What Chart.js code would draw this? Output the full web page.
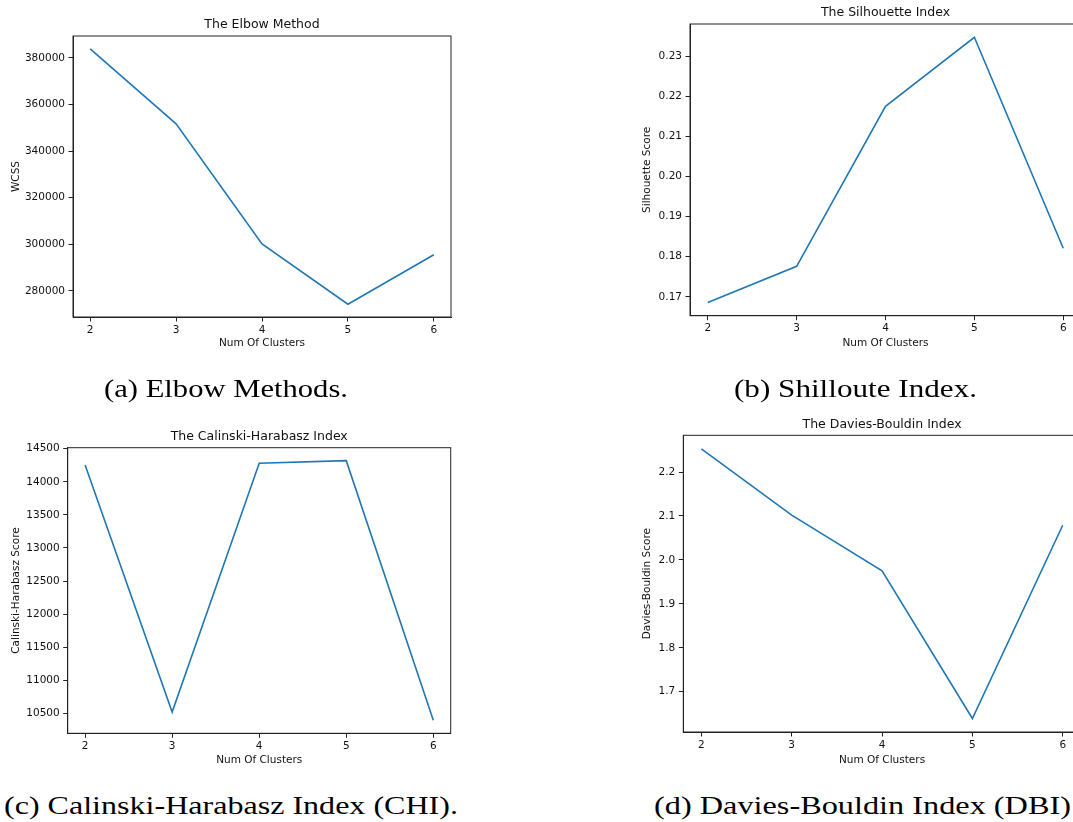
<!DOCTYPE html>
<html>
<head>
<meta charset="utf-8">
<script src="https://cdn.jsdelivr.net/npm/chart.js@4.4.1/dist/chart.umd.min.js"></script>
<style>
  html, body { margin: 0; padding: 0; background: #fff; overflow: hidden; }
  #page { position: relative; width: 1073px; height: 822px; overflow: hidden; background: #fff; }
  #page canvas { position: absolute; }
  .cap { position: absolute; font-family: "Liberation Serif", serif; font-size: 25.5px; line-height: 25px; white-space: nowrap; color: #000; transform-origin: 0 0; }
</style>
</head>
<body>
<div id="page">
  <canvas id="chart-elbow" width="456" height="360" style="left:0;top:0"></canvas>
  <canvas id="chart-sil" width="486" height="360" style="left:600px;top:0"></canvas>
  <canvas id="chart-chi" width="456" height="380" style="left:0;top:400px"></canvas>
  <canvas id="chart-dbi" width="486" height="380" style="left:600px;top:400px"></canvas>
  <div class="cap" data-w="244" style="left:104px;top:376px">(a) Elbow Methods.</div>
  <div class="cap" data-w="243" style="left:734px;top:376px">(b) Shilloute Index.</div>
  <div class="cap" data-w="454" style="left:4px;top:793px">(c) Calinski-Harabasz Index (CHI).</div>
  <div class="cap" data-w="417" style="left:654px;top:793px">(d) Davies-Bouldin Index (DBI)</div>
</div>
<script>
// ═══ DATA ═══
const clusters = [2, 3, 4, 5, 6];
const xTicks = [2, 3, 4, 5, 6];

const wcss = [383900, 351700, 300200, 274300, 295500];
const wcssTicks = [280000, 300000, 320000, 340000, 360000, 380000];

const silhouette = [0.1686, 0.1776, 0.2175, 0.2347, 0.1821];
const silTicks = [0.17, 0.18, 0.19, 0.20, 0.21, 0.22, 0.23];

const calinski = [14254, 10519, 14280, 14319, 10394];
const chiTicks = [10500, 11000, 11500, 12000, 12500, 13000, 13500, 14000, 14500];

const daviesBouldin = [2.253, 2.102, 1.975, 1.639, 2.079];
const dbiTicks = [1.7, 1.8, 1.9, 2.0, 2.1, 2.2];

// ═══ HELPERS ═══
const INK = '#222';
const tickFont = { family: 'DejaVu Sans', size: 10.5 };
const titleFont = { family: 'DejaVu Sans', size: 12.5, weight: 'normal' };

// matplotlib-style 5% margins around the data
function span(vals) {
    const lo = Math.min(...vals), hi = Math.max(...vals), m = (hi - lo) * 0.05;
    return { min: lo - m, max: hi + m };
}

const framePlugin = {
    id: 'frame',
    afterDraw(chart) {
        const { ctx, chartArea: a } = chart;
        ctx.save();
        ctx.strokeStyle = INK; ctx.lineWidth = 1;
        ctx.strokeRect(a.left, a.top, a.right - a.left, a.bottom - a.top);
        ctx.restore();
    }
};

function lineChart(id, title, yLabel, values, yTicks, fmt, box) {
    const r = span(values);
    const axisGrid = { display: true, drawOnChartArea: false, drawTicks: true, tickLength: 4.5, color: INK, lineWidth: 1 };
    return new Chart(document.getElementById(id), {
        type: 'line',
        data: { datasets: [{ data: clusters.map((x, i) => ({ x, y: values[i] })), borderColor: '#1f77b4', borderWidth: 1.6, pointRadius: 0, tension: 0, fill: false }] },
        options: {
            responsive: false, animation: false, devicePixelRatio: 1, events: [],
            layout: { padding: { left: 0, top: 0, right: box.padRight, bottom: 0 }, autoPadding: false },
            plugins: {
                legend: { display: false }, tooltip: { enabled: false },
                title: { display: true, text: title, font: titleFont, color: '#111', fullSize: false, padding: { top: box.titleTop, bottom: box.titleBottom } }
            },
            scales: {
                x: {
                    type: 'linear', min: 1.8, max: 6.2,
                    afterBuildTicks: s => { s.ticks = xTicks.map(v => ({ value: v })); },
                    afterFit: s => { s.height = box.xAxisH; },
                    ticks: { font: tickFont, color: '#111', padding: 2, autoSkip: false, maxRotation: 0, callback: v => String(v) },
                    grid: axisGrid, border: { display: true, color: INK, width: 1 },
                    title: { display: true, text: 'Num Of Clusters', font: tickFont, color: '#111', padding: { top: 0, bottom: box.xTitlePad } }
                },
                y: {
                    type: 'linear', min: r.min, max: r.max,
                    afterBuildTicks: s => { s.ticks = yTicks.map(v => ({ value: v })); },
                    afterFit: s => { s.width = box.yAxisW; },
                    ticks: { font: tickFont, color: '#111', padding: 3.5, autoSkip: false, callback: fmt },
                    grid: axisGrid, border: { display: true, color: INK, width: 1 },
                    title: { display: true, text: yLabel, font: tickFont, color: '#111', padding: { top: box.yTitlePad, bottom: 0 } }
                }
            }
        },
        plugins: [framePlugin]
    });
}

// ═══ CHARTS ═══
lineChart('chart-elbow', 'The Elbow Method', 'WCSS', wcss, wcssTicks, v => String(v),
    { yAxisW: 73, xAxisH: 43, padRight: 5, titleTop: 17.5, titleBottom: 3.5, yTitlePad: 9.7, xTitlePad: 10.2 });
lineChart('chart-sil', 'The Silhouette Index', 'Silhouette Score', silhouette, silTicks, v => v.toFixed(2),
    { yAxisW: 90, xAxisH: 44.3, padRight: 5, titleTop: 5.5, titleBottom: 3.5, yTitlePad: 41.2, xTitlePad: 10.4 });
lineChart('chart-chi', 'The Calinski-Harabasz Index', 'Calinski-Harabasz Score', calinski, chiTicks, v => String(v),
    { yAxisW: 67.7, xAxisH: 46.7, padRight: 5.3, titleTop: 29, titleBottom: 3.7, yTitlePad: 10.2, xTitlePad: 13.7 });
lineChart('chart-dbi', 'The Davies-Bouldin Index', 'Davies-Bouldin Score', daviesBouldin, dbiTicks, v => v.toFixed(1),
    { yAxisW: 83.3, xAxisH: 48, padRight: 5.2, titleTop: 17, titleBottom: 3.3, yTitlePad: 41.2, xTitlePad: 13.7 });

// captions: stretch the serif text to the width it has in the paper
document.querySelectorAll('.cap').forEach(el => {
    const w = el.getBoundingClientRect().width;
    el.style.transform = `scaleX(${(+el.dataset.w / w).toFixed(4)})`;
});
</script>
</body>
</html>
